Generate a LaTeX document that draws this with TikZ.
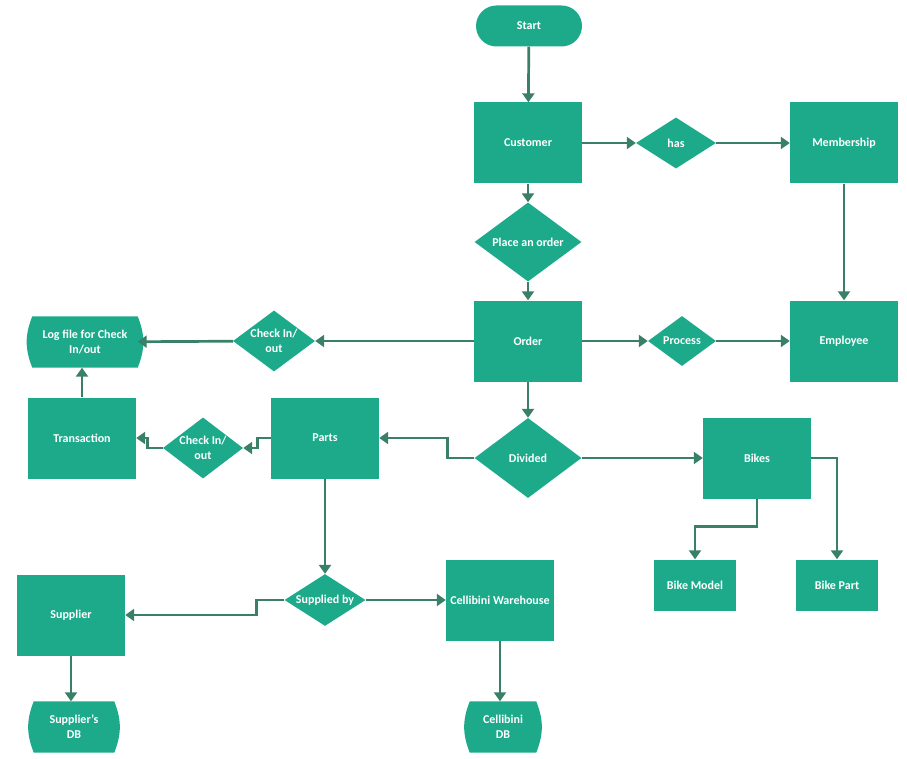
\documentclass[tikz,border=0pt]{standalone}
\usepackage{fontspec}
\setmainfont{Carlito}
\usepackage{tikz}
\usetikzlibrary{arrows.meta,shapes.geometric,backgrounds}
\definecolor{flowfill}{RGB}{28,170,139}
\definecolor{flowline}{RGB}{58,128,104}
\tikzset{
  fc/.style={fill=flowfill, text=white, font=\fontsize{12}{15}\selectfont\bfseries, align=center, inner sep=0pt},
  box/.style={fc, rectangle, minimum width=108pt, minimum height=81pt},
  smallbox/.style={fc, rectangle, minimum width=82pt, minimum height=51pt},
  choice/.style={fc, diamond, aspect=1.4},
  term/.style={fc, rectangle, rounded corners=20.5pt, minimum width=106pt, minimum height=41pt},
  store/.style={fc, fill=none, rectangle, minimum height=51pt},
  link/.style={draw=flowline, line width=2.7pt, -{Triangle[width=12pt,length=9pt]}}
}
\newcommand{\storefill}[1]{\fill[flowfill] (#1.north west) to[bend right=22] (#1.south west) -- (#1.south east) to[bend right=22] (#1.north east) -- cycle;}

\begin{document}
\begin{tikzpicture}[x=1pt, y=-1pt]
\useasboundingbox (0,0) rectangle (907,759);
% nodes
\node[term] (start) at (529,26) {Start};
\node[box] (cust) at (528,143) {Customer};
\node[choice, minimum width=80pt, minimum height=51pt] (has) at (676,143) {has};
\node[box] (memb) at (844,143) {Membership};
\node[choice, minimum width=107pt, minimum height=79pt] (place) at (528,242) {Place an order};
\node[box] (order) at (528,341) {Order};
\node[choice, minimum width=68pt, minimum height=50pt] (proc) at (682,341) {Process};
\node[box] (emp) at (844,341) {Employee};
\node[choice, minimum width=82pt, minimum height=61pt] (chkA) at (274,341) {Check In/\\out};
\node[store, minimum width=105pt] (log) at (85,342) {Log file for Check\\In/out};
\node[box] (trans) at (82,438) {Transaction};
\node[choice, minimum width=80pt, minimum height=61pt] (chkB) at (203,448) {Check In/\\out};
\node[box] (parts) at (325,438) {Parts};
\node[choice, minimum width=107pt, minimum height=80pt] (div) at (528,458) {Divided};
\node[box] (bikes) at (757,458) {Bikes};
\node[smallbox] (model) at (695,585) {Bike Model};
\node[smallbox] (bpart) at (837,585) {Bike Part};
\node[choice, minimum width=81pt, minimum height=51pt] (supby) at (325,600) {Supplied by};
\node[box] (ware) at (500,600) {Cellibini Warehouse};
\node[box] (supp) at (71,615) {Supplier};
\node[store, minimum width=80pt] (suppdb) at (74,727) {Supplier's\\DB};
\node[store, minimum width=66pt] (celldb) at (503,727) {Cellibini\\DB};
\begin{scope}[on background layer]
  \storefill{log} \storefill{suppdb} \storefill{celldb}
\end{scope}
% connectors
\draw[link] (start) -- (cust);
\draw[link] (cust) -- (has);
\draw[link] (has) -- (memb);
\draw[link] (cust) -- (place);
\draw[link] (place) -- (order);
\draw[link] (memb) -- (emp);
\draw[link] (order) -- (proc);
\draw[link] (proc) -- (emp);
\draw[link] (order) -- (chkA);
\draw[link] (chkA) -- (log);
\draw[link] (trans.north) -- (trans.north |- log.south);
\draw[link] (order) -- (div);
\draw[link] (div.west) -- ++(-27,0) |- (parts.east);
\draw[link] (parts.west) -- ++(-13,0) |- (chkB.east);
\draw[link] (chkB.west) -- ++(-15,0) |- (trans.east);
\draw[link] (div) -- (bikes);
\draw[link] (bikes.south) -- ++(0,28) -| (model.north);
\draw[link] (bikes.east) -| (bpart.north);
\draw[link] (parts.south) -- (supby.north);
\draw[link] (supby.west) -- ++(-28,0) |- (supp.east);
\draw[link] (supby) -- (ware);
\draw[link] (supp.south) -- (supp.south |- suppdb.north);
\draw[link] (ware.south) -- (ware.south |- celldb.north);
\end{tikzpicture}
\end{document}
